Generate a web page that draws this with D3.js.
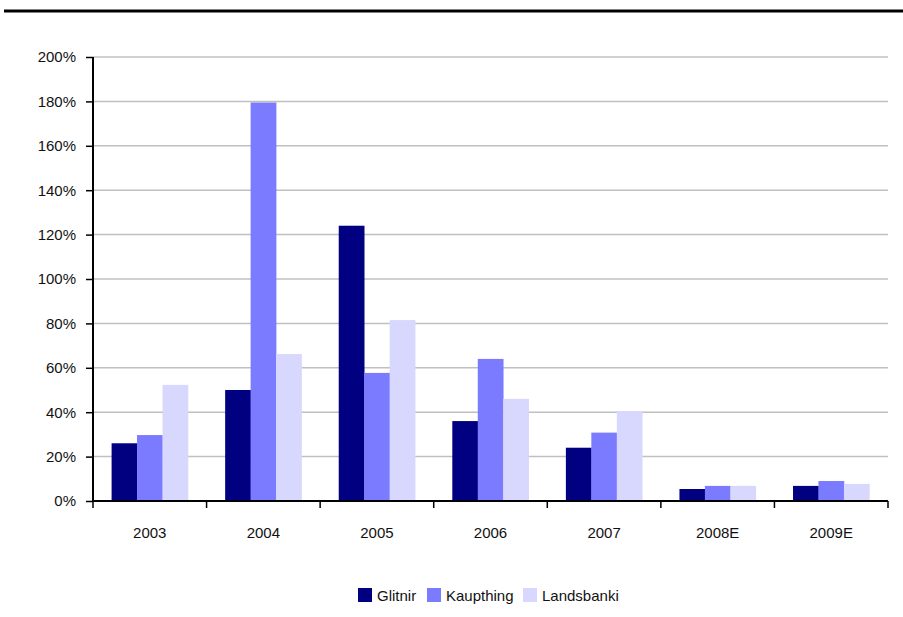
<!DOCTYPE html>
<html>
<head>
<meta charset="utf-8">
<script src="https://cdn.jsdelivr.net/npm/d3@7"></script>
<style>
  body { margin: 0; background: #fff; }
  svg { display: block; font-family: "Liberation Sans", Arial, sans-serif; }
</style>
</head>
<body>
<div id="chart"></div>
<script>
const years = ["2003", "2004", "2005", "2006", "2007", "2008E", "2009E"];
const banks = ["Glitnir", "Kaupthing", "Landsbanki"];
const glitnir = [26, 50, 124, 36, 24, 5.4, 6.8];
const kaupthing = [29.7, 179.5, 57.7, 64, 30.8, 6.8, 9];
const landsbanki = [52.3, 66.2, 81.5, 46, 40.5, 6.8, 7.7];
const colors = ["#000080", "#7b7bff", "#d8d8ff"];
const yTicks = [0, 20, 40, 60, 80, 100, 120, 140, 160, 180, 200];

const series = [glitnir, kaupthing, landsbanki];

const width = 903, height = 617;
const plotLeft = 93, plotRight = 888, plotTop = 57, plotBottom = 501;
const textColor = "#111";

const svg = d3.select("#chart").append("svg")
  .attr("width", width)
  .attr("height", height);

// top rule
svg.append("line")
  .attr("x1", 4).attr("x2", width)
  .attr("y1", 11).attr("y2", 11)
  .attr("stroke", "#000").attr("stroke-width", 3);

const x = d3.scaleBand().domain(years).range([plotLeft, plotRight]).paddingInner(0).paddingOuter(0);
const x1 = d3.scaleBand().domain(banks).range([0, x.bandwidth()]).paddingOuter(0.73).paddingInner(0);
const y = d3.scaleLinear().domain([0, 200]).range([plotBottom, plotTop]);

// gridlines
svg.append("g")
  .selectAll("line")
  .data(yTicks.filter(d => d > 0))
  .join("line")
  .attr("x1", plotLeft).attr("x2", plotRight)
  .attr("y1", d => y(d)).attr("y2", d => y(d))
  .attr("stroke", "#c0c0c0").attr("stroke-width", 1.5);

// bars
const groups = svg.append("g")
  .selectAll("g")
  .data(years)
  .join("g")
  .attr("transform", d => `translate(${x(d)},0)`);

groups.selectAll("rect")
  .data((d, i) => banks.map((b, j) => ({ bank: b, value: series[j][i], c: colors[j] })))
  .join("rect")
  .attr("x", d => x1(d.bank))
  .attr("width", x1.bandwidth() + 0.3)
  .attr("y", d => y(d.value))
  .attr("height", d => plotBottom - y(d.value))
  .attr("fill", d => d.c);

// y axis
const yAxis = svg.append("g")
  .attr("transform", `translate(${plotLeft},0)`)
  .call(d3.axisLeft(y).tickValues(yTicks).tickFormat(d => d + "%").tickSize(7).tickPadding(10));
yAxis.select(".domain").attr("stroke", "#000").attr("stroke-width", 2).attr("d", `M0,${plotTop}V${plotBottom}`);
yAxis.selectAll(".tick line").attr("stroke", "#000").attr("stroke-width", 1.5);
yAxis.selectAll("text").attr("font-size", 15).attr("fill", textColor).attr("font-family", "Liberation Sans, Arial, sans-serif");

// x axis
const xAxis = svg.append("g")
  .attr("transform", `translate(0,${plotBottom})`);
xAxis.append("line")
  .attr("x1", plotLeft).attr("x2", plotRight)
  .attr("stroke", "#000").attr("stroke-width", 2);
xAxis.selectAll("line.tk")
  .data(years.map(d => x(d)).concat([plotRight]))
  .join("line")
  .attr("class", "tk")
  .attr("x1", d => d).attr("x2", d => d)
  .attr("y1", 0).attr("y2", 7)
  .attr("stroke", "#000").attr("stroke-width", 1.5);
xAxis.selectAll("text")
  .data(years)
  .join("text")
  .attr("x", d => x(d) + x.bandwidth() / 2)
  .attr("y", 37)
  .attr("text-anchor", "middle")
  .attr("font-size", 15)
  .attr("fill", textColor)
  .text(d => d);

// legend
const legendX = [358, 427, 523];
const legend = svg.append("g");
banks.forEach((b, i) => {
  const g = legend.append("g").attr("transform", `translate(${legendX[i]},588)`);
  g.append("rect").attr("width", 14).attr("height", 14).attr("fill", colors[i]);
  g.append("text")
    .attr("x", 19).attr("y", 13)
    .attr("font-size", 15)
    .attr("fill", textColor)
    .text(b);
});
</script>
</body>
</html>
